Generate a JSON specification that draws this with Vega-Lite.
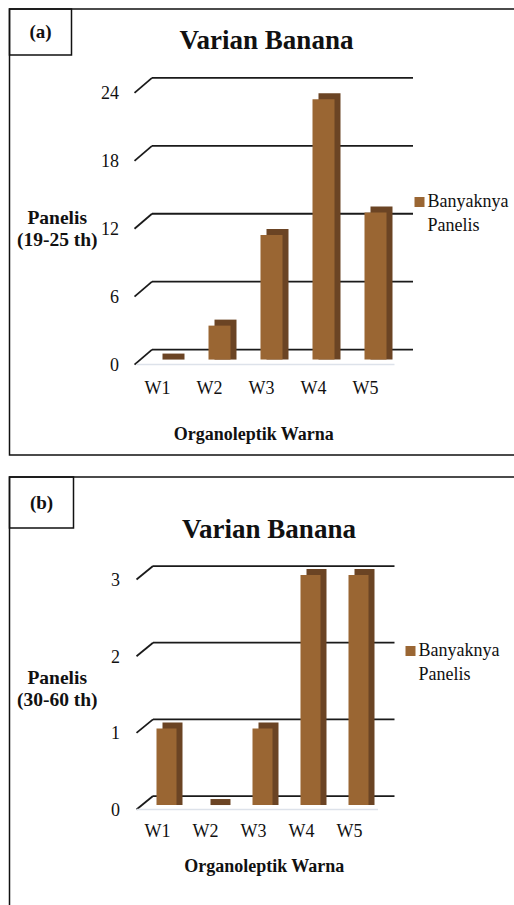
{
  "$schema": "https://vega.github.io/schema/vega-lite/v6.json",
  "padding": {"left": 7.5, "top": 7, "right": 0, "bottom": 0},
  "background": "white",
  "spacing": 19,
  "config": {
    "font": "Liberation Serif",
    "legend": {"strokeWidth": 1.5},
    "axis": {"labelColor": "#111", "titleColor": "#111"}
  },
  "resolve": {"scale": {"x": "independent", "y": "independent", "color": "independent", "stroke": "independent"}, "legend": {"color": "independent", "stroke": "independent"}},
  "vconcat": [
    {
      "width": 505,
      "height": 446,
      "view": {"stroke": "#111", "strokeWidth": 1.5, "strokeDash": [505, 446, 951]},
      "title": {"text": "Varian Banana", "anchor": "middle", "frame": "group", "offset": -67.5, "baseline": "alphabetic", "dx": 4.5, "fontSize": 27, "fontWeight": "bold", "font": "Liberation Serif", "color": "#111"},
      "data": {"values": [
        {"warna": "W1", "n": 0},
        {"warna": "W2", "n": 3},
        {"warna": "W3", "n": 11},
        {"warna": "W4", "n": 23},
        {"warna": "W5", "n": 13}
      ]},
      "layer": [
        {
          "data": {"values": [{"tick": 0}, {"tick": 6}, {"tick": 12}, {"tick": 18}, {"tick": 24}]},
          "mark": {"type": "rule", "color": "#1a1a1a", "strokeWidth": 1.8, "xOffset": -15.5, "x2Offset": 37.5, "yOffset": -10},
          "encoding": {
            "x": {"datum": "W1", "type": "nominal", "scale": {"type": "band", "range": [147, 377], "paddingInner": 0.5769, "paddingOuter": 0}},
            "x2": {"datum": "W5"},
            "y": {"field": "tick", "type": "quantitative", "scale": {"domain": [-8.43, 30.97], "nice": false, "zero": false}}
          }
        },
        {
          "data": {"values": [{"tick": 0}, {"tick": 6}, {"tick": 12}, {"tick": 18}, {"tick": 24}]},
          "mark": {"type": "rule", "color": "#1a1a1a", "strokeWidth": 1.8, "xOffset": -33, "x2Offset": -15.5, "yOffset": 5, "y2Offset": -10},
          "encoding": {
            "x": {"datum": "W1", "type": "nominal", "scale": {"type": "band", "range": [147, 377], "paddingInner": 0.5769, "paddingOuter": 0}},
            "x2": {"datum": "W1"},
            "y": {"field": "tick", "type": "quantitative", "scale": {"domain": [-8.43, 30.97], "nice": false, "zero": false}},
            "y2": {"field": "tick"}
          }
        },
        {
          "data": {"values": [{"tick": 0, "panel": "(a)"}]},
          "mark": {"type": "rule", "strokeWidth": 1.5, "xOffset": -31, "x2Offset": 19, "yOffset": 5},
          "encoding": {
            "x": {"datum": "W1", "type": "nominal", "scale": {"type": "band", "range": [147, 377], "paddingInner": 0.5769, "paddingOuter": 0}},
            "x2": {"datum": "W5"},
            "y": {"field": "tick", "type": "quantitative", "scale": {"domain": [-8.43, 30.97], "nice": false, "zero": false}},
            "stroke": {"field": "panel", "type": "nominal", "scale": {"range": ["#dde2ea"]}, "legend": {"title": null, "orient": "top-left", "offset": 0, "padding": 12, "strokeColor": "#111", "symbolType": "square", "symbolSize": 484, "symbolOpacity": 1, "symbolFillColor": "white", "symbolStrokeColor": "white", "symbolStrokeWidth": 0, "symbolOffset": 16, "labelAlign": "center", "labelOffset": -19, "labelFont": "Liberation Serif", "labelFontSize": 19, "labelFontWeight": "bold", "labelColor": "#111"}}
          }
        },
        {
          "mark": {"type": "bar", "color": "#6b4424", "xOffset": 6, "yOffset": -6},
          "encoding": {
            "x": {"field": "warna", "type": "nominal", "scale": {"type": "band", "range": [147, 377], "paddingInner": 0.5769, "paddingOuter": 0}},
            "y": {"field": "n", "type": "quantitative", "scale": {"domain": [-8.43, 30.97], "nice": false, "zero": false}},
            "y2": {"datum": 0}
          }
        },
        {
          "mark": {"type": "bar"},
          "encoding": {
            "x": {"field": "warna", "type": "nominal", "scale": {"type": "band", "range": [147, 377], "paddingInner": 0.5769, "paddingOuter": 0},
              "axis": {"orient": "bottom", "offset": -61.2, "domain": false, "ticks": false, "tickSize": 0, "grid": false, "labelPadding": 0, "labelAngle": 0, "labelOffset": 3, "labelBaseline": "alphabetic", "labelFont": "Liberation Serif", "labelFontSize": 18, "labelColor": "#111", "title": "Organoleptik Warna", "titleX": 243.75, "titleY": 46, "titleAlign": "center", "titleBaseline": "alphabetic", "titleFont": "Liberation Serif", "titleFontSize": 18, "titleFontWeight": "bold", "titleColor": "#111"}},
            "y": {"field": "n", "type": "quantitative", "scale": {"domain": [-8.43, 30.97], "nice": false, "zero": false},
              "axis": {"orient": "left", "offset": -109, "values": [0, 6, 12, 18, 24], "format": "d", "domain": false, "ticks": false, "tickSize": 0, "grid": false, "labelPadding": 0, "labelOffset": 6, "labelFont": "Liberation Serif", "labelFontSize": 18, "labelColor": "#111", "title": ["Panelis", "(19-25 th)"], "titleAngle": 0, "titleX": -61.75, "titleY": 208, "titleAlign": "center", "titleBaseline": "middle", "titleLineHeight": 22, "titleFont": "Liberation Serif", "titleFontSize": 19.5, "titleFontWeight": "bold", "titleColor": "#111"}},
            "color": {"datum": "Banyaknya Panelis", "type": "nominal", "scale": {"range": ["#9a6633"]},
              "legend": {"title": null, "orient": "none", "legendX": 401, "legendY": 184, "padding": 0, "symbolType": "square", "symbolSize": 100, "symbolStrokeWidth": 0, "labelOffset": -1, "labelFont": "Liberation Serif", "labelFontSize": 18, "labelColor": "#111", "labelExpr": "split(datum.label, ' ')", "encode": {"labels": {"update": {"lineHeight": {"value": 24}}}}}}
          }
        }
      ]
    },
    {
      "width": 505,
      "height": 430,
      "view": {"stroke": "#111", "strokeWidth": 1.5, "strokeDash": [505, 935, 430]},
      "title": {"text": "Varian Banana", "anchor": "middle", "frame": "group", "offset": -89, "baseline": "alphabetic", "dx": 7, "fontSize": 27, "fontWeight": "bold", "font": "Liberation Serif", "color": "#111"},
      "data": {"values": [
        {"warna": "W1", "n": 1},
        {"warna": "W2", "n": 0},
        {"warna": "W3", "n": 1},
        {"warna": "W4", "n": 3},
        {"warna": "W5", "n": 3}
      ]},
      "layer": [
        {
          "data": {"values": [{"tick": 0}, {"tick": 1}, {"tick": 2}, {"tick": 3}]},
          "mark": {"type": "rule", "color": "#1a1a1a", "strokeWidth": 1.8, "xOffset": -13.5, "x2Offset": 36, "yOffset": -9},
          "encoding": {
            "x": {"datum": "W1", "type": "nominal", "scale": {"type": "band", "range": [147, 359], "paddingInner": 0.5833, "paddingOuter": 0}},
            "x2": {"datum": "W5"},
            "y": {"field": "tick", "type": "quantitative", "scale": {"domain": [-1.33, 4.279], "nice": false, "zero": false}}
          }
        },
        {
          "data": {"values": [{"tick": 0}, {"tick": 1}, {"tick": 2}, {"tick": 3}]},
          "mark": {"type": "rule", "color": "#1a1a1a", "strokeWidth": 1.8, "xOffset": -30, "x2Offset": -13.5, "yOffset": 4.5, "y2Offset": -9},
          "encoding": {
            "x": {"datum": "W1", "type": "nominal", "scale": {"type": "band", "range": [147, 359], "paddingInner": 0.5833, "paddingOuter": 0}},
            "x2": {"datum": "W1"},
            "y": {"field": "tick", "type": "quantitative", "scale": {"domain": [-1.33, 4.279], "nice": false, "zero": false}},
            "y2": {"field": "tick"}
          }
        },
        {
          "data": {"values": [{"tick": 0, "panel": "(b)"}]},
          "mark": {"type": "rule", "strokeWidth": 1.5, "xOffset": -30, "x2Offset": 19.5, "yOffset": 4.5},
          "encoding": {
            "x": {"datum": "W1", "type": "nominal", "scale": {"type": "band", "range": [147, 359], "paddingInner": 0.5833, "paddingOuter": 0}},
            "x2": {"datum": "W5"},
            "y": {"field": "tick", "type": "quantitative", "scale": {"domain": [-1.33, 4.279], "nice": false, "zero": false}},
            "stroke": {"field": "panel", "type": "nominal", "scale": {"range": ["#dde2ea"]}, "legend": {"title": null, "orient": "top-left", "offset": 0, "padding": 12, "strokeColor": "#111", "symbolType": "square", "symbolSize": 713, "symbolOpacity": 1, "symbolFillColor": "white", "symbolStrokeColor": "white", "symbolStrokeWidth": 0, "symbolOffset": 12.7, "labelAlign": "center", "labelOffset": -19.7, "labelFont": "Liberation Serif", "labelFontSize": 19, "labelFontWeight": "bold", "labelColor": "#111"}}
          }
        },
        {
          "mark": {"type": "bar", "color": "#6b4424", "xOffset": 6, "yOffset": -6},
          "encoding": {
            "x": {"field": "warna", "type": "nominal", "scale": {"type": "band", "range": [147, 359], "paddingInner": 0.5833, "paddingOuter": 0}},
            "y": {"field": "n", "type": "quantitative", "scale": {"domain": [-1.33, 4.279], "nice": false, "zero": false}},
            "y2": {"datum": 0}
          }
        },
        {
          "mark": {"type": "bar"},
          "encoding": {
            "x": {"field": "warna", "type": "nominal", "scale": {"type": "band", "range": [147, 359], "paddingInner": 0.5833, "paddingOuter": 0},
              "axis": {"orient": "bottom", "offset": -71, "domain": false, "ticks": false, "tickSize": 0, "grid": false, "labelPadding": 0, "labelAngle": 0, "labelOffset": 4, "labelBaseline": "alphabetic", "labelFont": "Liberation Serif", "labelFontSize": 18, "labelColor": "#111", "title": "Organoleptik Warna", "titleX": 254.25, "titleY": 35, "titleAlign": "center", "titleBaseline": "alphabetic", "titleFont": "Liberation Serif", "titleFontSize": 18, "titleFontWeight": "bold", "titleColor": "#111"}},
            "y": {"field": "n", "type": "quantitative", "scale": {"domain": [-1.33, 4.279], "nice": false, "zero": false},
              "axis": {"orient": "left", "offset": -110, "values": [0, 1, 2, 3], "format": "d", "domain": false, "ticks": false, "tickSize": 0, "grid": false, "labelPadding": 0, "labelOffset": 5.5, "labelFont": "Liberation Serif", "labelFontSize": 18, "labelColor": "#111", "title": ["Panelis", "(30-60 th)"], "titleAngle": 0, "titleX": -62.75, "titleY": 200, "titleAlign": "center", "titleBaseline": "middle", "titleLineHeight": 22, "titleFont": "Liberation Serif", "titleFontSize": 19.5, "titleFontWeight": "bold", "titleColor": "#111"}},
            "color": {"datum": "Banyaknya Panelis", "type": "nominal", "scale": {"range": ["#9a6633"]},
              "legend": {"title": null, "orient": "none", "legendX": 392, "legendY": 165, "padding": 0, "symbolType": "square", "symbolSize": 100, "symbolStrokeWidth": 0, "labelOffset": -1, "labelFont": "Liberation Serif", "labelFontSize": 18, "labelColor": "#111", "labelExpr": "split(datum.label, ' ')", "encode": {"labels": {"update": {"lineHeight": {"value": 24}}}}}}
          }
        }
      ]
    }
  ]
}
